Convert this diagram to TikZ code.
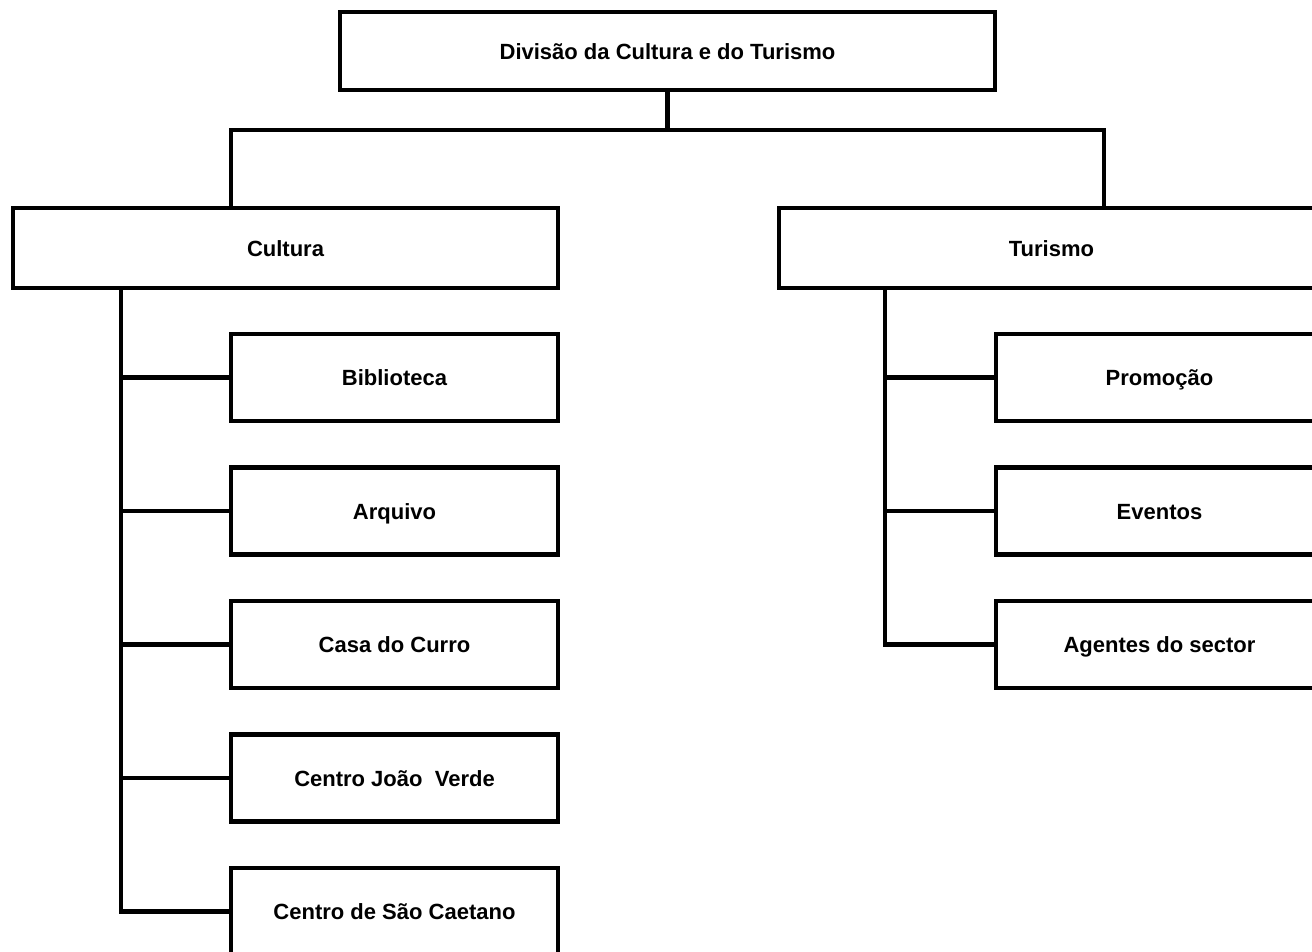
\documentclass[tikz,border=0pt]{standalone}
\usepackage{fontspec}
\setmainfont{Liberation Sans}
\begin{document}
\begin{tikzpicture}[x=1pt,y=-1pt,
  box/.style={draw=black, line width=4.5pt, rectangle, inner sep=0pt,
    text height=16pt, text depth=0pt,
    font=\bfseries\fontsize{22}{26}\selectfont, align=center},
  wide/.style={box, minimum width=545pt, minimum height=80pt},
  unit/.style={box, minimum width=327pt, minimum height=87pt},
  link/.style={line width=4.5pt, line join=miter}]
\useasboundingbox (0,0) rectangle (1312,951);
\clip (0,0) rectangle (1312,951);
\node[box, minimum width=655pt, minimum height=78pt] (top) at (667.5,51) {Divisão da Cultura e do Turismo};
\node[wide] (cultura) at (285.5,248) {Cultura};
\node[wide] (turismo) at (1051.5,248) {Turismo};
\node[unit] (c1) at (394.5,377.5) {Biblioteca};
\node[unit] (c2) at (394.5,511) {Arquivo};
\node[unit] (c3) at (394.5,644.5) {Casa do Curro};
\node[unit] (c4) at (394.5,778) {Centro João~ Verde};
\node[unit] (c5) at (394.5,911.5) {Centro de São Caetano};
\node[unit] (t1) at (1159.5,377.5) {Promoção};
\node[unit] (t2) at (1159.5,511) {Eventos};
\node[unit] (t3) at (1159.5,644.5) {Agentes do sector};
\coordinate (bar) at (667.5,130);
\coordinate (bl) at (231,130);
\coordinate (br) at (1104,130);
\coordinate (tl) at (121,300);
\coordinate (tr) at (885,300);
\draw[link] (top.south) -- (bar);
\draw[link] (bl |- cultura.north) -- (bl) -- (br) -- (br |- turismo.north);
\draw[link] (tl |- cultura.south) -- (tl |- c5.west) -- (c5.west);
\foreach \n in {c1,c2,c3,c4} \draw[link] (tl |- \n.west) -- (\n.west);
\draw[link] (tr |- turismo.south) -- (tr |- t3.west) -- (t3.west);
\foreach \n in {t1,t2} \draw[link] (tr |- \n.west) -- (\n.west);
\end{tikzpicture}
\end{document}
